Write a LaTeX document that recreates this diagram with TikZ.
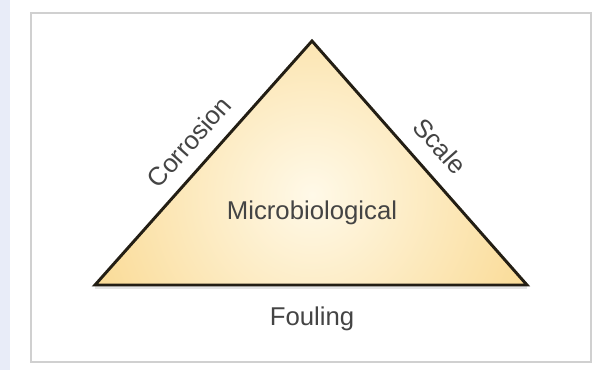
\documentclass[tikz,border=0pt]{standalone}
\usepackage{fontspec}
\setmainfont{Liberation Sans}
\begin{document}
\begin{tikzpicture}[x=0.75pt,y=-0.75pt,
  lbl/.style={inner sep=0pt, text=txtgray, font=\fontsize{19.3}{23}\selectfont},
  edge/.style={draw=edgecol, line width=2.2pt, line join=miter}]
\definecolor{txtgray}{RGB}{68,68,68}
\definecolor{edgecol}{RGB}{35,30,20}
\definecolor{innerc}{RGB}{255,249,232}
\definecolor{outerc}{RGB}{245,190,72}
\definecolor{stripc}{RGB}{232,236,248}
\definecolor{boxc}{RGB}{208,208,208}
\useasboundingbox (0,0) rectangle (594,370);
\fill[white] (0,0) rectangle (594,370);
\fill[stripc] (0,0) rectangle (10,370);
\draw[boxc, line width=1.6pt] (31,13) rectangle (591,362);
\coordinate (A) at (95,285);
\coordinate (B) at (527,285);
\coordinate (C) at (312,41);
\begin{scope}
  \clip (A) -- (B) -- (C) -- cycle;
  \shade[inner color=innerc, outer color=outerc] (312,195) circle (460);
\end{scope}
\draw[gray!40, line width=2pt, opacity=0.5] ([yshift=-2]A) -- ([yshift=-2]B);
\draw[edge] (A) -- (B) -- (C) -- cycle;
\node[lbl, rotate=48.3] (corr) at (189,142) {Corrosion};
\node[lbl, rotate=-48.3] (scale) at (440,146) {Scale};
\node[lbl, anchor=base] (micro) at (312,220) {Microbiological};
\node[lbl, anchor=base] (foul) at (312,326) {Fouling};
\end{tikzpicture}
\end{document}
